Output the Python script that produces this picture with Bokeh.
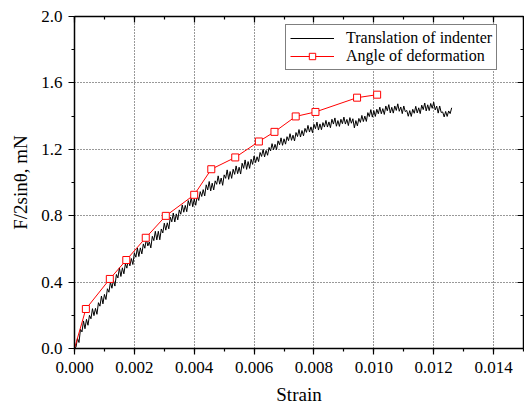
from bokeh.plotting import figure
from bokeh.models import (LinearAxis, SingleIntervalTicker, PrintfTickFormatter,
                          CustomJSTickFormatter, Range1d, Legend, LegendItem, Grid)
from bokeh.embed import file_html
from bokeh.resources import INLINE

# ---- data ----
trans_strain = [
    0.00000, 0.00005, 0.00010, 0.00015, 0.00020, 0.00025, 0.00030, 0.00035, 0.00040, 0.00045,
    0.00050, 0.00055, 0.00060, 0.00065, 0.00070, 0.00075, 0.00080, 0.00085, 0.00090, 0.00095,
    0.00100, 0.00105, 0.00110, 0.00115, 0.00120, 0.00125, 0.00130, 0.00135, 0.00140, 0.00145,
    0.00150, 0.00155, 0.00160, 0.00165, 0.00170, 0.00175, 0.00180, 0.00185, 0.00190, 0.00195,
    0.00200, 0.00205, 0.00210, 0.00215, 0.00220, 0.00225, 0.00230, 0.00235, 0.00240, 0.00245,
    0.00250, 0.00255, 0.00260, 0.00265, 0.00270, 0.00275, 0.00280, 0.00285, 0.00290, 0.00295,
    0.00300, 0.00305, 0.00310, 0.00315, 0.00320, 0.00325, 0.00330, 0.00335, 0.00340, 0.00345,
    0.00350, 0.00355, 0.00360, 0.00365, 0.00370, 0.00375, 0.00380, 0.00385, 0.00390, 0.00395,
    0.00400, 0.00405, 0.00410, 0.00415, 0.00420, 0.00425, 0.00430, 0.00435, 0.00440, 0.00445,
    0.00450, 0.00455, 0.00460, 0.00465, 0.00470, 0.00475, 0.00480, 0.00485, 0.00490, 0.00495,
    0.00500, 0.00505, 0.00510, 0.00515, 0.00520, 0.00525, 0.00530, 0.00535, 0.00540, 0.00545,
    0.00550, 0.00555, 0.00560, 0.00565, 0.00570, 0.00575, 0.00580, 0.00585, 0.00590, 0.00595,
    0.00600, 0.00605, 0.00610, 0.00615, 0.00620, 0.00625, 0.00630, 0.00635, 0.00640, 0.00645,
    0.00650, 0.00655, 0.00660, 0.00665, 0.00670, 0.00675, 0.00680, 0.00685, 0.00690, 0.00695,
    0.00700, 0.00705, 0.00710, 0.00715, 0.00720, 0.00725, 0.00730, 0.00735, 0.00740, 0.00745,
    0.00750, 0.00755, 0.00760, 0.00765, 0.00770, 0.00775, 0.00780, 0.00785, 0.00790, 0.00795,
    0.00800, 0.00805, 0.00810, 0.00815, 0.00820, 0.00825, 0.00830, 0.00835, 0.00840, 0.00845,
    0.00850, 0.00855, 0.00860, 0.00865, 0.00870, 0.00875, 0.00880, 0.00885, 0.00890, 0.00895,
    0.00900, 0.00905, 0.00910, 0.00915, 0.00920, 0.00925, 0.00930, 0.00935, 0.00940, 0.00945,
    0.00950, 0.00955, 0.00960, 0.00965, 0.00970, 0.00975, 0.00980, 0.00985, 0.00990, 0.00995,
    0.01000, 0.01005, 0.01010, 0.01015, 0.01020, 0.01025, 0.01030, 0.01035, 0.01040, 0.01045,
    0.01050, 0.01055, 0.01060, 0.01065, 0.01070, 0.01075, 0.01080, 0.01085, 0.01090, 0.01095,
    0.01100, 0.01105, 0.01110, 0.01115, 0.01120, 0.01125, 0.01130, 0.01135, 0.01140, 0.01145,
    0.01150, 0.01155, 0.01160, 0.01165, 0.01170, 0.01175, 0.01180, 0.01185, 0.01190, 0.01195,
    0.01200, 0.01205, 0.01210, 0.01215, 0.01220, 0.01225, 0.01230, 0.01235, 0.01240, 0.01245,
    0.01250, 0.01255, 0.01260,
]
trans_force = [
    0.000, 0.008, 0.062, 0.036, 0.116, 0.100, 0.166, 0.119, 0.176, 0.140,
    0.200, 0.179, 0.240, 0.198, 0.242, 0.206, 0.276, 0.255, 0.316, 0.269,
    0.326, 0.295, 0.360, 0.339, 0.400, 0.363, 0.412, 0.376, 0.446, 0.425,
    0.486, 0.434, 0.486, 0.450, 0.510, 0.484, 0.540, 0.498, 0.542, 0.506,
    0.576, 0.550, 0.606, 0.554, 0.606, 0.570, 0.630, 0.604, 0.660, 0.618,
    0.642, 0.606, 0.676, 0.650, 0.706, 0.654, 0.706, 0.655, 0.720, 0.696,
    0.755, 0.713, 0.757, 0.721, 0.791, 0.763, 0.816, 0.762, 0.811, 0.775,
    0.835, 0.809, 0.865, 0.821, 0.862, 0.824, 0.891, 0.860, 0.911, 0.854,
    0.901, 0.863, 0.920, 0.892, 0.945, 0.916, 0.957, 0.919, 0.986, 0.955,
    1.006, 0.949, 0.996, 0.955, 1.010, 0.989, 1.040, 0.990, 1.027, 0.983,
    1.046, 1.025, 1.076, 1.019, 1.066, 1.025, 1.080, 1.049, 1.100, 1.053,
    1.092, 1.051, 1.116, 1.085, 1.136, 1.079, 1.126, 1.085, 1.140, 1.109,
    1.160, 1.120, 1.155, 1.126, 1.181, 1.157, 1.199, 1.154, 1.193, 1.164,
    1.211, 1.190, 1.234, 1.197, 1.230, 1.198, 1.251, 1.227, 1.269, 1.224,
    1.263, 1.231, 1.276, 1.252, 1.294, 1.254, 1.285, 1.250, 1.301, 1.277,
    1.319, 1.274, 1.313, 1.281, 1.326, 1.302, 1.344, 1.304, 1.335, 1.300,
    1.351, 1.324, 1.364, 1.316, 1.353, 1.318, 1.361, 1.334, 1.374, 1.334,
    1.365, 1.330, 1.381, 1.352, 1.389, 1.339, 1.373, 1.338, 1.381, 1.354,
    1.394, 1.352, 1.380, 1.343, 1.391, 1.357, 1.384, 1.329, 1.373, 1.341,
    1.386, 1.362, 1.404, 1.367, 1.400, 1.368, 1.421, 1.397, 1.439, 1.394,
    1.433, 1.398, 1.441, 1.414, 1.454, 1.414, 1.445, 1.410, 1.461, 1.432,
    1.469, 1.419, 1.453, 1.418, 1.461, 1.434, 1.474, 1.429, 1.455, 1.415,
    1.461, 1.427, 1.434, 1.399, 1.433, 1.398, 1.441, 1.417, 1.459, 1.419,
    1.450, 1.415, 1.466, 1.439, 1.479, 1.431, 1.468, 1.433, 1.476, 1.447,
    1.484, 1.437, 1.460, 1.418, 1.461, 1.422, 1.425, 1.395, 1.428, 1.398,
    1.431, 1.415, 1.450,
]
angle_strain = [0.0, 0.00038, 0.00118, 0.00173, 0.00238, 0.00305, 0.0040, 0.00457,
                0.00537, 0.00616, 0.00668, 0.00739, 0.00805, 0.00944, 0.01011]
angle_force = [0.0, 0.238, 0.419, 0.533, 0.667, 0.799, 0.926, 1.080,
               1.151, 1.247, 1.305, 1.398, 1.425, 1.511, 1.529]

x_range = (0.0, 0.015)
y_range = (0.0, 2.0)
x_tick_step = 0.002
y_tick_step = 0.4

FONT = "Liberation Serif"

p = figure(width=524, height=407, output_backend="svg", toolbar_location=None,
           x_range=Range1d(*x_range), y_range=Range1d(*y_range),
           x_axis_type=None, y_axis_type=None,
           min_border_left=74, min_border_right=1, min_border_top=16, min_border_bottom=59)
p.outline_line_color = None
p.background_fill_color = "white"
p.border_fill_color = "white"

xt = SingleIntervalTicker(interval=x_tick_step, num_minor_ticks=2)
yt = SingleIntervalTicker(interval=y_tick_step, num_minor_ticks=2)
blank = CustomJSTickFormatter(code="return '';")


def style(ax, inside):
    ax.axis_line_color = "black"
    ax.axis_line_width = 1.5
    ax.major_tick_line_color = "black"
    ax.minor_tick_line_color = "black"
    ax.major_tick_line_width = 1.2
    ax.minor_tick_line_width = 1.2
    if inside:
        ax.major_tick_in, ax.major_tick_out = 6, 0
        ax.minor_tick_in, ax.minor_tick_out = 3, 0
        ax.major_label_standoff = 0
    else:
        ax.major_tick_in, ax.major_tick_out = 0, 6
        ax.minor_tick_in, ax.minor_tick_out = 0, 3
    ax.major_label_text_font = FONT
    ax.major_label_text_font_size = "17px"
    ax.major_label_text_color = "black"
    ax.axis_label_text_font = FONT
    ax.axis_label_text_font_size = "19px"
    ax.axis_label_text_font_style = "normal"
    ax.axis_label_text_color = "black"


xb = LinearAxis(ticker=xt, formatter=PrintfTickFormatter(format="%.3f"), axis_label="Strain")
style(xb, False)
xb.major_label_standoff = 7
xb.axis_label_standoff = 8
xb.major_label_text_line_height = 1.0
xb.axis_label_text_line_height = 1.0
p.add_layout(xb, "below")

yl = LinearAxis(ticker=yt, formatter=PrintfTickFormatter(format="%.1f"), axis_label="F/2sinθ, mN")
style(yl, False)
yl.major_label_standoff = 6
yl.axis_label_standoff = 7
p.add_layout(yl, "left")

xa = LinearAxis(ticker=xt, formatter=blank)
style(xa, True)
p.add_layout(xa, "above")

yr = LinearAxis(ticker=yt, formatter=blank)
style(yr, True)
p.add_layout(yr, "right")

gx = Grid(dimension=0, ticker=xt, grid_line_color="#333333", grid_line_dash="1 2", grid_line_width=1)
gy = Grid(dimension=1, ticker=yt, grid_line_color="#333333", grid_line_dash="1 2", grid_line_width=1)
p.add_layout(gx)
p.add_layout(gy)

r_black = p.line(trans_strain, trans_force, line_color="black", line_width=1)
r_red = p.line(angle_strain, angle_force, line_color="#ff0000", line_width=1)
r_sq = p.scatter(angle_strain[1:], angle_force[1:], marker="square", size=7,
                 line_color="#ff0000", fill_color="white", line_width=1)

legend = Legend(items=[LegendItem(label="Translation of indenter", renderers=[r_black]),
                       LegendItem(label="Angle of deformation", renderers=[r_red, r_sq])],
                location=(211, 278))
legend.label_text_font = FONT
legend.label_text_font_size = "16px"
legend.label_text_color = "black"
legend.border_line_color = "black"
legend.border_line_width = 1
legend.background_fill_color = "white"
legend.background_fill_alpha = 1
legend.padding = 4
legend.spacing = 0
legend.margin = 0
legend.glyph_width = 44
legend.glyph_height = 16
legend.label_height = 16
legend.label_standoff = 12
p.add_layout(legend, "center")

open("out.html", "w").write(file_html(p, INLINE))
